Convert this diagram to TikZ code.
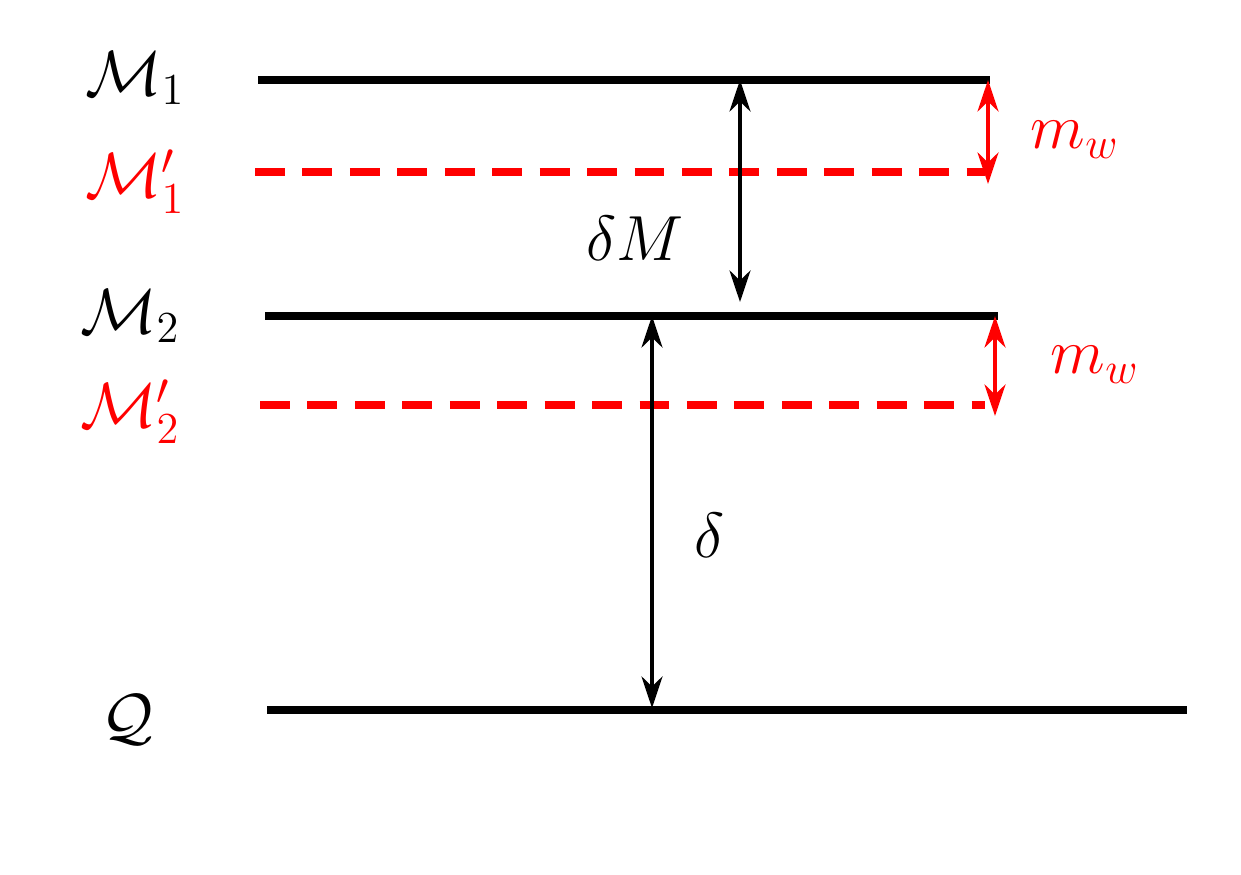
\documentclass[tikz,border=0pt]{standalone}
\usepackage{amsmath}
\usetikzlibrary{arrows.meta}
\begin{document}
\begin{tikzpicture}[x=0.02cm,y=-0.02cm]
\tikzstyle{level}=[black,line width=4pt]
\tikzstyle{shifted}=[red,line width=4pt,dash pattern=on 17pt off 10pt]
\tikzstyle{gap}=[line width=2.2pt,{Stealth[length=18pt,width=12pt]}-{Stealth[length=18pt,width=12pt]}]
\tikzstyle{every node}+=[font=\huge,scale=1.75,transform shape]
\useasboundingbox (0,0) rectangle (1241,875);
% levels
\coordinate (m1a) at (258,80);  \coordinate (m1b) at (990,80);
\coordinate (p1a) at (255,172); \coordinate (p1b) at (985,172);
\coordinate (m2a) at (265,316); \coordinate (m2b) at (998,316);
\coordinate (p2a) at (260,405); \coordinate (p2b) at (985,405);
\coordinate (qa) at (267,710);  \coordinate (qb) at (1187,710);
\draw [level] (m1a) -- (m1b);
\draw [shifted] (p1a) -- (p1b);
\draw [level] (m2a) -- (m2b);
\draw [shifted] (p2a) -- (p2b);
\draw [level] (qa) -- (qb);
% labels
\node (lm1) at (135,78) {$\mathcal{M}_1$};
\node [red] (lp1) at (135,182) {$\mathcal{M}'_1$};
\node (lm2) at (130,316) {$\mathcal{M}_2$};
\node [red] (lp2) at (130,412) {$\mathcal{M}'_2$};
\node (lq) at (128,720) {$\mathcal{Q}$};
% gaps
\coordinate (dmt) at (740,80); \coordinate (dmb) at (740,302);
\draw [gap] (dmt) -- (dmb);
\node (ldm) at (635,238) {$\delta M$};
\coordinate (dt) at (652,316); \coordinate (db) at (652,708);
\draw [gap] (dt) -- (db);
\node (ld) at (710,535) {$\delta$};
\coordinate (w1t) at (988,80); \coordinate (w1b) at (988,184);
\draw [gap,red] (w1t) -- (w1b);
\node [red] (lw1) at (1075,140) {$m_w$};
\coordinate (w2t) at (995,316); \coordinate (w2b) at (995,416);
\draw [gap,red] (w2t) -- (w2b);
\node [red] (lw2) at (1095,365) {$m_w$};
\end{tikzpicture}
\end{document}
